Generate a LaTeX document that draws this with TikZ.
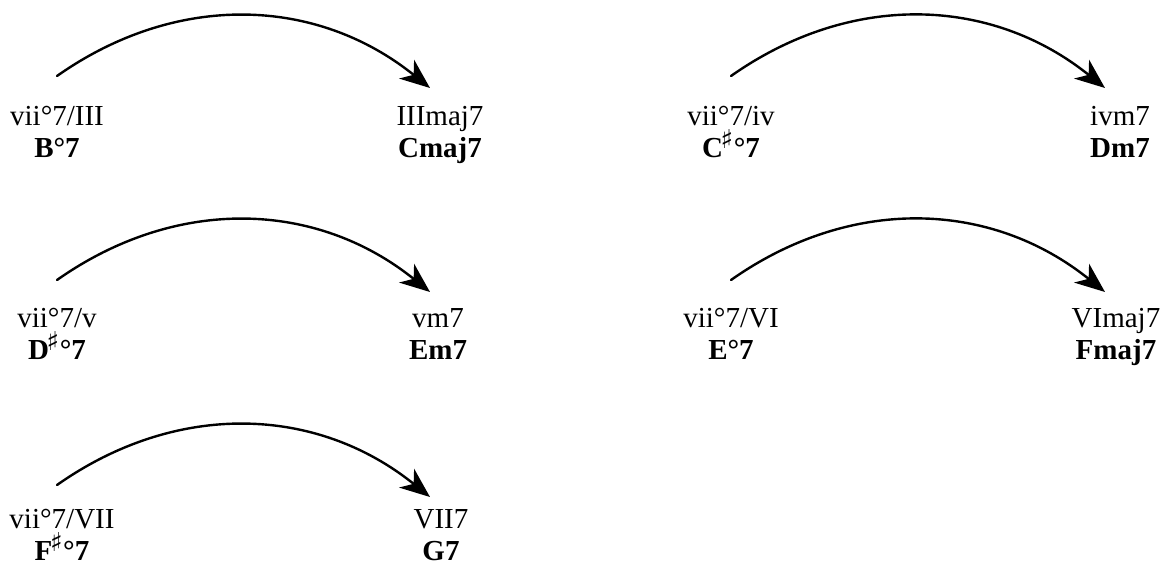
\documentclass[tikz,border=0pt]{standalone}
\usepackage{fontspec}
\setmainfont{Liberation Serif}
\newfontfamily\symfont{DejaVu Sans}
\usetikzlibrary{arrows.meta, calc}
\newcommand{\shp}{\kern-0.08em\raisebox{0.3em}{\symfont\bfseries\fontsize{13}{13}\selectfont ♯}\kern0.02em}
\begin{document}
\begin{tikzpicture}[x=0.5pt, y=-0.5pt, line cap=round, line join=round,
		font=\fontsize{14.5}{16}\selectfont,
		chord/.style={align=center, inner sep=0pt, anchor=north},
		resolve/.style={-{Stealth[length=15pt, width=12pt, inset=4.5pt]}, line width=1.2pt, bend left=37}]
	% Define page bounds
	\useasboundingbox (0,0) rectangle (1164,569);
	
	% Macros for columns and rows
	\def\xA{57} \def\xB{440}
	\def\xC{731}
	\def\yA{106} \def\yB{308} \def\yC{509}
	
	% Left column: applied chords and their targets
	\node[chord] (bdim) at (\xA,\yA) {vii°7/III\\\textbf{B°7}};
	\node[chord] (cmaj) at (\xB,\yA) {IIImaj7\\\textbf{Cmaj7}};
	\node[chord] (ddim) at (\xA,\yB) {vii°7/v\\\textbf{D\shp°7}};
	\node[chord] (em) at (438,\yB) {vm7\\\textbf{Em7}};
	\node[chord] (fdim) at (62,\yC) {vii°7/VII\\\textbf{F\shp°7}};
	\node[chord] (g) at (441,\yC) {VII7\\\textbf{G7}};
	
	% Right column
	\node[chord] (cdim) at (\xC,\yA) {vii°7/iv\\\textbf{C\shp°7}};
	\node[chord] (dm) at (1120,\yA) {ivm7\\\textbf{Dm7}};
	\node[chord] (edim) at (\xC,\yB) {vii°7/VI\\\textbf{E°7}};
	\node[chord] (fmaj) at (1116,\yB) {VImaj7\\\textbf{Fmaj7}};
	
	% Resolution arrows (start well above the text, tips stop short of it)
	\draw[resolve] ($(bdim.north)+(0,-30)$) to ($(cmaj.north)+(-10,-18)$);
	\draw[resolve] ($(ddim.north)+(0,-28)$) to ($(em.north)+(-8,-16)$);
	\draw[resolve] ($(fdim.north)+(-5,-24)$) to ($(g.north)+(-11,-12)$);
	\draw[resolve] ($(cdim.north)+(0,-30)$) to ($(dm.north)+(-15,-18)$);
	\draw[resolve] ($(edim.north)+(0,-28)$) to ($(fmaj.north)+(-11,-16)$);
\end{tikzpicture}
\end{document}
